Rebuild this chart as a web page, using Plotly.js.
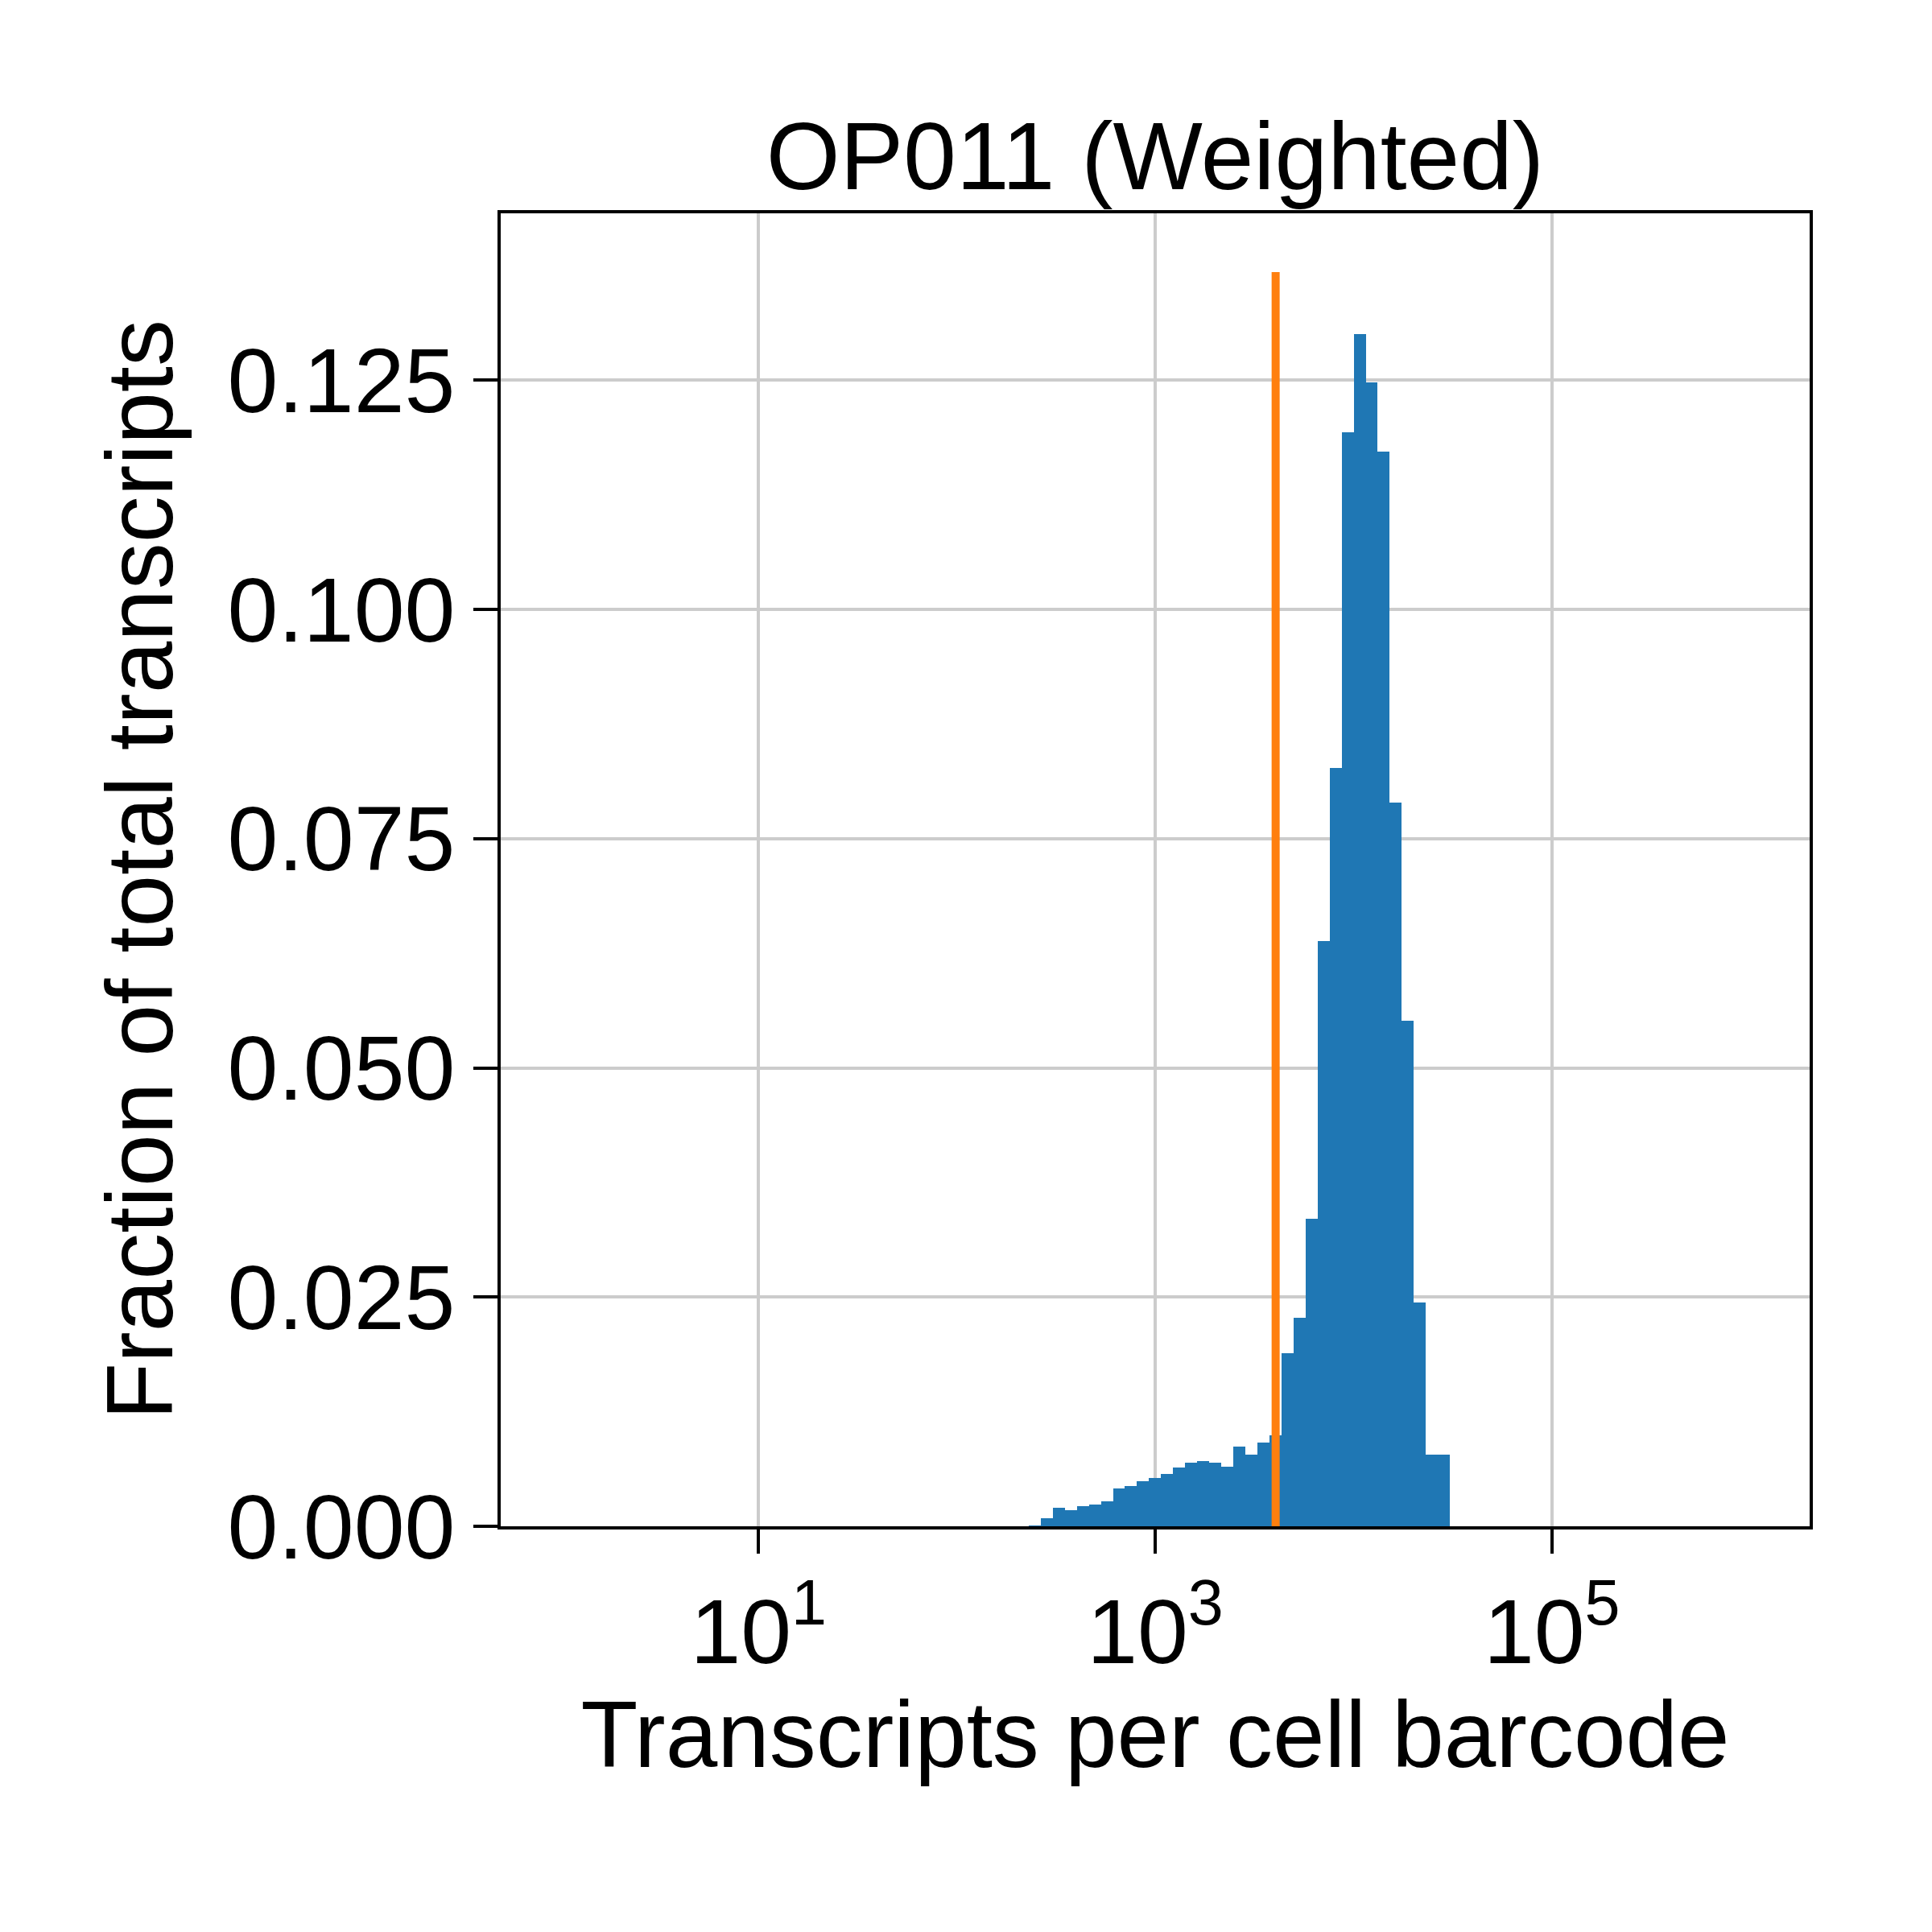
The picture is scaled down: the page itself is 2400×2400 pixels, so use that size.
<!DOCTYPE html>
<html>
<head>
<meta charset="utf-8">
<script src="https://cdn.plot.ly/plotly-3.0.1.min.js"></script>
<style>body{margin:0;background:#fff}</style>
</head>
<body>
<div id="chart" style="width:2400px;height:2400px"></div>
<script>
// histogram: log10 bin start, log10 bin width, fraction per bin
var binStart = 2.362;
var binWidth = 0.0607;
var fractions = [0.0001, 0.00087, 0.0020, 0.0018, 0.0022, 0.0024, 0.0027, 0.0041, 0.0044,
    0.0049, 0.0053, 0.0057, 0.0064, 0.0069, 0.0071, 0.0069, 0.0065, 0.0087, 0.0078, 0.0091,
    0.0099, 0.0189, 0.0227, 0.0335, 0.0638, 0.0827, 0.1193, 0.1300, 0.1248, 0.1172, 0.0789,
    0.0551, 0.0244, 0.0078, 0.0078];
var cutoff = 4050;
var cutoffTop = 0.1368;
var xTickVals = [1, 3, 5];
var xTickText = ["10<sup>1</sup>", "10<sup>3</sup>", "10<sup>5</sup>"];
var yTickVals = [0, 0.025, 0.05, 0.075, 0.1, 0.125];
var yTickText = ["0.000", "0.025", "0.050", "0.075", "0.100", "0.125"];

var centers = fractions.map(function (v, i) { return binStart + (i + 0.5) * binWidth; });

var bars = {
    type: "bar", x: centers, y: fractions, width: binWidth,
    marker: {color: "#1f77b4", line: {width: 0}}, hoverinfo: "skip"
};
var line = {
    type: "scatter", mode: "lines",
    x: [Math.log10(cutoff), Math.log10(cutoff)], y: [0, cutoffTop],
    line: {color: "#ff7f0e", width: 10}
};

var font = {family: "Liberation Sans, Arial, sans-serif", color: "#000"};
var layout = {
    width: 2400, height: 2400, showlegend: false, bargap: 0,
    paper_bgcolor: "#fff", plot_bgcolor: "#fff",
    margin: {l: 622, r: 152, t: 265, b: 504},
    font: font,
    title: {text: "OP011 (Weighted)", font: {family: font.family, size: 118, color: "#000"},
        x: 0.5, xanchor: "center", xref: "paper", y: 1, yref: "paper", yanchor: "bottom", pad: {b: 30}},
    xaxis: {
        range: [-0.3, 6.3], tickvals: xTickVals, ticktext: xTickText,
        tickfont: {size: 113}, ticks: "outside", ticklen: 30, tickwidth: 4, tickcolor: "#000",
        showgrid: true, gridcolor: "#cccccc", gridwidth: 4, zeroline: false,
        showline: true, linecolor: "#000", linewidth: 4, mirror: true, layer: "above traces",
        title: {text: "Transcripts per cell barcode", font: {size: 116}, standoff: 25}
    },
    yaxis: {
        range: [0, 0.1432], tickvals: yTickVals, ticktext: yTickText,
        tickfont: {size: 113}, ticks: "outside", ticklen: 30, tickwidth: 4, tickcolor: "#000",
        showgrid: true, gridcolor: "#cccccc", gridwidth: 4, zeroline: false,
        showline: true, linecolor: "#000", linewidth: 4, mirror: true, layer: "above traces",
        title: {text: "Fraction of total transcripts", font: {size: 116}, standoff: 30}
    }
};
Plotly.newPlot("chart", [bars, line], layout, {staticPlot: true});
</script>
</body>
</html>
